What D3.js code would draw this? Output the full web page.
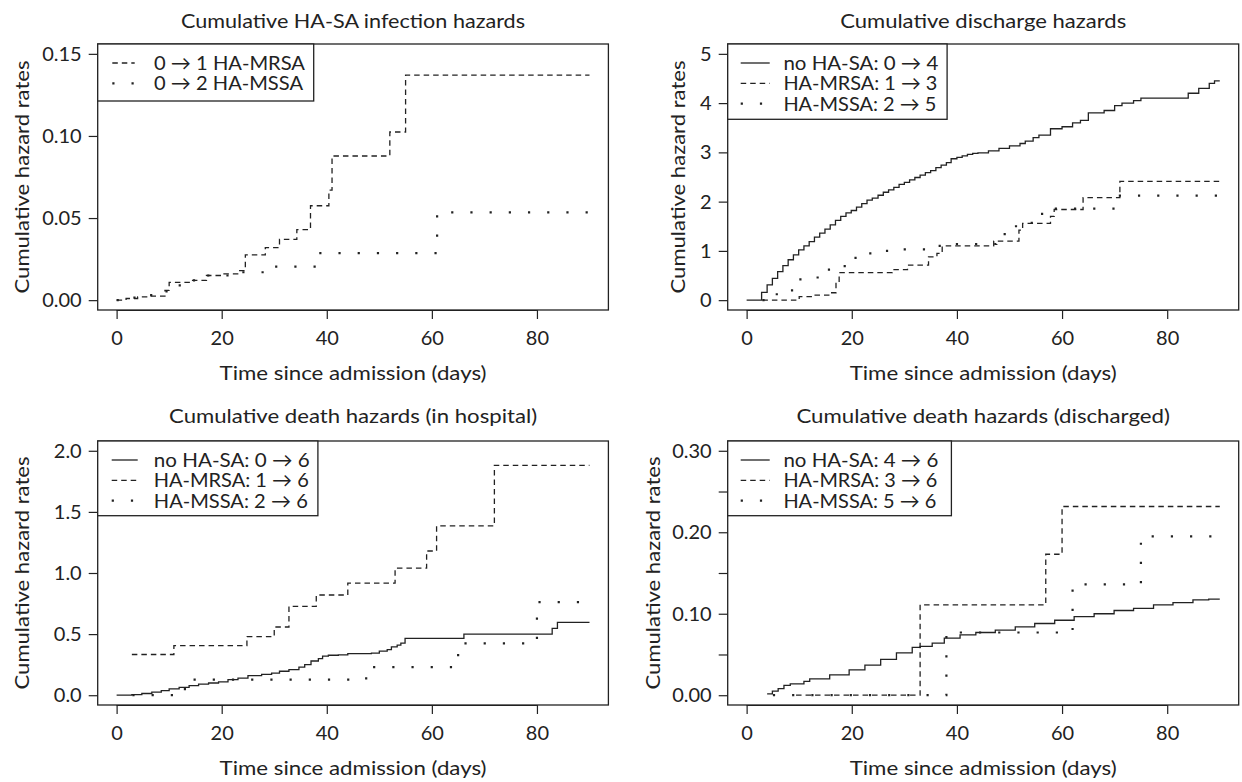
<!DOCTYPE html>
<html>
<head>
<meta charset="utf-8">
<script src="https://cdn.jsdelivr.net/npm/d3@7"></script>
<style>
  html, body { margin: 0; padding: 0; background: #fff; }
  svg text { font-family: Lato, "Open Sans", "DejaVu Sans", sans-serif; fill: #222; }
</style>
</head>
<body>
<svg id="chart" width="1242" height="782"></svg>
<script>
// ---------------- DATA ----------------
const xTicks = [0, 20, 40, 60, 80];
const endDay = 90;

// Panel 1: Cumulative HA-SA infection hazards
const p1Title = "Cumulative HA-SA infection hazards";
const p1YTicks = [0, 0.05, 0.10, 0.15];
const p1YLabels = ["0.00", "0.05", "0.10", "0.15"];
const p1MrsaT = [0, 1.8, 4, 6.6, 9.2, 10, 14.3, 17.1, 20.3, 23.2, 24.5, 28.3, 31, 34.3, 36.9, 40.4, 41, 52, 55];
const p1MrsaV = [0, 0.001, 0.002, 0.0025, 0.006, 0.0108, 0.012, 0.015, 0.016, 0.018, 0.0276, 0.032, 0.037, 0.043, 0.0575, 0.067, 0.0878, 0.1024, 0.137];
const p1MssaT = [0, 3, 6, 9.5, 13, 17, 23.5, 28.5, 38, 61];
const p1MssaV = [0, 0.0015, 0.003, 0.009, 0.012, 0.015, 0.017, 0.0204, 0.0286, 0.0535];
const p1Legend = ["0 \u2192 1 HA-MRSA", "0 \u2192 2 HA-MSSA"];

// Panel 2: Cumulative discharge hazards
const p2Title = "Cumulative discharge hazards";
const p2YTicks = [0, 1, 2, 3, 4, 5];
const p2YLabels = ["0", "1", "2", "3", "4", "5"];
const p2NoneT = [0, 2.85, 3.9, 4.9, 5.9, 6.9, 7.9, 8.9, 9.9, 10.9, 11.9, 12.9, 13.9, 14.9, 15.9, 16.9, 17.9, 18.9, 19.9, 20.9, 21.9, 22.9, 23.9, 25, 26, 27, 28, 29, 30, 31, 32, 33, 34, 35, 36, 37, 38, 38.9, 40, 41, 42, 43, 44, 46, 48, 50, 52, 53, 54.5, 55.6, 57.8, 60, 62, 63.5, 65, 68, 70, 71.4, 73.6, 75, 84, 86, 88, 89];
const p2NoneV = [0, 0.156, 0.31, 0.44, 0.58, 0.70, 0.82, 0.92, 1.02, 1.10, 1.19, 1.28, 1.36, 1.44, 1.53, 1.62, 1.70, 1.77, 1.82, 1.89, 1.96, 2.03, 2.07, 2.13, 2.19, 2.24, 2.29, 2.35, 2.39, 2.44, 2.49, 2.54, 2.59, 2.63, 2.69, 2.74, 2.79, 2.87, 2.90, 2.93, 2.96, 2.98, 2.99, 3.03, 3.08, 3.13, 3.18, 3.23, 3.30, 3.35, 3.48, 3.52, 3.60, 3.65, 3.80, 3.85, 3.95, 4.00, 4.05, 4.10, 4.20, 4.30, 4.40, 4.45];
const p2MrsaT = [3, 10, 12.6, 16, 17, 17.6, 27.7, 30.6, 34.6, 36.2, 37.2, 47, 51.8, 52.5, 57.8, 58.5, 64, 71];
const p2MrsaV = [0, 0.07, 0.10, 0.15, 0.37, 0.56, 0.62, 0.71, 0.88, 0.95, 1.10, 1.20, 1.42, 1.56, 1.70, 1.84, 2.08, 2.41];
const p2MssaT = [3, 4.5, 6, 9.5, 10, 12.5, 14.5, 15, 17.5, 19, 20, 22, 26, 29, 35.5, 38, 47.5, 48, 50, 52, 54.5, 57, 71];
const p2MssaV = [0, 0.12, 0.20, 0.30, 0.42, 0.46, 0.55, 0.62, 0.69, 0.78, 0.86, 0.95, 1.00, 1.03, 1.10, 1.14, 1.25, 1.34, 1.50, 1.57, 1.75, 1.86, 2.12];
const p2Legend = ["no HA-SA: 0 \u2192 4", "HA-MRSA: 1 \u2192 3", "HA-MSSA: 2 \u2192 5"];

// Panel 3: Cumulative death hazards (in hospital)
const p3Title = "Cumulative death hazards (in hospital)";
const p3YTicks = [0, 0.5, 1, 1.5, 2];
const p3YLabels = ["0.0", "0.5", "1.0", "1.5", "2.0"];
const p3NoneT = [0, 2.9, 4.8, 6.7, 8.5, 10, 11.9, 13.8, 15.6, 17.5, 19.4, 21.2, 23.1, 25, 27.6, 29.5, 31, 32.8, 34.7, 35.8, 37, 38.4, 39.2, 40.3, 42.2, 44, 48.5, 50, 51.5, 52.3, 53.4, 54.1, 54.9, 66.1, 82.9, 83.9];
const p3NoneV = [0, 0.005, 0.014, 0.025, 0.038, 0.052, 0.065, 0.079, 0.09, 0.10, 0.11, 0.128, 0.14, 0.16, 0.17, 0.18, 0.196, 0.21, 0.23, 0.25, 0.28, 0.30, 0.32, 0.327, 0.33, 0.34, 0.345, 0.36, 0.373, 0.395, 0.41, 0.427, 0.465, 0.50, 0.547, 0.596];
const p3MrsaT = [2.9, 10.9, 24.8, 30, 32.8, 38, 44, 53, 59, 60.9, 71.9];
const p3MrsaV = [0.333, 0.405, 0.48, 0.558, 0.727, 0.82, 0.917, 1.04, 1.18, 1.385, 1.88];
const p3MssaT = [3, 13, 47.5, 65, 80];
const p3MssaV = [0, 0.128, 0.23, 0.425, 0.762];
const p3Legend = ["no HA-SA: 0 \u2192 6", "HA-MRSA: 1 \u2192 6", "HA-MSSA: 2 \u2192 6"];

// Panel 4: Cumulative death hazards (discharged)
const p4Title = "Cumulative death hazards (discharged)";
const p4YTicks = [0, 0.05, 0.10, 0.15, 0.20, 0.25, 0.30];
const p4YLabels = ["0.00", "", "0.10", "", "0.20", "", "0.30"];
const p4NoneT = [3.9, 4.9, 6, 7.1, 8.3, 10.9, 12, 15.8, 19.5, 22.5, 25.5, 28.5, 31.5, 33, 35.3, 37.6, 40.6, 43.6, 47.3, 51.1, 54.8, 58.6, 62.3, 66.1, 69.9, 73.6, 77.4, 81.1, 84.9, 87.9];
const p4NoneV = [0.0016, 0.005, 0.008, 0.012, 0.014, 0.017, 0.020, 0.025, 0.031, 0.037, 0.044, 0.052, 0.0586, 0.060, 0.064, 0.070, 0.074, 0.077, 0.080, 0.084, 0.088, 0.092, 0.0965, 0.100, 0.104, 0.1066, 0.111, 0.1136, 0.117, 0.118];
const p4MrsaT = [9.4, 33, 56.9, 60];
const p4MrsaV = [0, 0.111, 0.173, 0.2316];
const p4MssaT = [5, 38, 62, 75];
const p4MssaV = [0, 0.077, 0.136, 0.195];
const p4Legend = ["no HA-SA: 4 \u2192 6", "HA-MRSA: 3 \u2192 6", "HA-MSSA: 5 \u2192 6"];

const xLabel = "Time since admission (days)";
const yLabel = "Cumulative hazard rates";

// ---------------- STYLES ----------------
const INK = "#222";
const styles = {
  solid:  { dash: null, width: 1.3, cap: "butt" },
  dashed: { dash: "5.5,4", width: 1.3, cap: "butt" },
  dotted: { dash: "2.2,17", width: 2.2, cap: "butt" }
};

const svg = d3.select("#chart");

function panel(cfg) {
  const { left, right, top, bottom } = cfg.box;
  const x = d3.scaleLinear().domain([-3.6, 93.6]).range([left, right]);
  const ylo = cfg.ylim[0], yhi = cfg.ylim[1], pad = 0.04 * (yhi - ylo);
  const y = d3.scaleLinear().domain([ylo - pad, yhi + pad]).range([bottom, top]);
  const g = svg.append("g");

  // x axis
  const xAxis = d3.axisBottom(x).tickValues(xTicks).tickSize(9).tickSizeOuter(0).tickPadding(6);
  const gx = g.append("g").attr("transform", `translate(0,${bottom})`).call(xAxis);
  gx.select(".domain").attr("d", `M${x(0)},0.5H${x(80)}`).attr("stroke", INK).attr("stroke-width", 1.2);
  gx.selectAll(".tick line").attr("stroke", INK).attr("stroke-width", 1.2);
  gx.selectAll(".tick text").attr("font-size", 20).attr("font-family", "Lato").attr("fill", INK)
    .attr("dy", "1.0em");

  // y axis
  const yAxis = d3.axisLeft(y).tickValues(cfg.yTicks).tickFormat((d, i) => cfg.yLabels[i])
    .tickSize(9).tickSizeOuter(0).tickPadding(7);
  const gy = g.append("g").attr("transform", `translate(${left},0)`).call(yAxis);
  gy.select(".domain").remove();
  gy.selectAll(".tick line").attr("stroke", INK).attr("stroke-width", 1.2);
  gy.selectAll(".tick text").attr("font-size", 20).attr("font-family", "Lato").attr("fill", INK);

  // frame
  g.append("rect").attr("x", left).attr("y", top).attr("width", right - left).attr("height", bottom - top)
    .attr("fill", "none").attr("stroke", INK).attr("stroke-width", 1.3);

  // curves
  const line = d3.line().x(d => x(d[0])).y(d => y(d[1])).curve(d3.curveStepAfter);
  cfg.series.forEach(s => {
    const pts = s.t.map((t, i) => [t, s.v[i]]);
    pts.push([endDay, s.v[s.v.length - 1]]);
    const st = styles[s.style];
    g.append("path").datum(pts).attr("d", line).attr("fill", "none")
      .attr("stroke", INK).attr("stroke-width", st.width).attr("stroke-linecap", st.cap)
      .attr("stroke-dasharray", st.dash);
  });

  // title
  const cx = (left + right) / 2;
  g.append("text").attr("x", cx).attr("y", cfg.titleY).attr("text-anchor", "middle")
    .attr("font-size", 20).attr("textLength", cfg.titleW).attr("lengthAdjust", "spacingAndGlyphs")
    .text(cfg.title);
  // x label
  g.append("text").attr("x", cx).attr("y", bottom + 70).attr("text-anchor", "middle")
    .attr("font-size", 20).attr("textLength", 267).attr("lengthAdjust", "spacingAndGlyphs")
    .text(xLabel);
  // y label
  const cy = (top + bottom) / 2;
  g.append("text").attr("transform", `translate(${cfg.yLabX},${cy}) rotate(-90)`).attr("text-anchor", "middle")
    .attr("font-size", 20).attr("textLength", 233).attr("lengthAdjust", "spacingAndGlyphs")
    .text(yLabel);

  // legend
  const L = cfg.legend;
  g.append("rect").attr("x", left).attr("y", top).attr("width", L.w).attr("height", L.h)
    .attr("fill", "#fff").attr("stroke", INK).attr("stroke-width", 1.3);
  L.items.forEach((it, i) => {
    const ry = top + 19 + i * 20.3;
    const st = styles[it.style];
    g.append("line").attr("x1", left + L.sx0).attr("x2", left + L.sx1).attr("y1", ry).attr("y2", ry)
      .attr("stroke", INK).attr("stroke-width", st.width).attr("stroke-dasharray", st.dash)
      .attr("stroke-linecap", st.cap);
    g.append("text").attr("x", left + L.tx).attr("y", ry + 7).attr("font-size", 20)
      .attr("textLength", it.w).attr("lengthAdjust", "spacingAndGlyphs").text(it.label);
  });
}

panel({
  box: { left: 97.7, right: 608.4, top: 44, bottom: 310 }, ylim: [0, 0.15],
  yTicks: p1YTicks, yLabels: p1YLabels, title: p1Title, titleY: 28.3, titleW: 344, yLabX: 29.3,
  series: [
    { t: p1MrsaT, v: p1MrsaV, style: "dashed" },
    { t: p1MssaT, v: p1MssaV, style: "dotted" }
  ],
  legend: { w: 216, h: 57, sx0: 14.6, sx1: 37, tx: 56.3,
    items: [ { label: p1Legend[0], style: "dashed", w: 151 }, { label: p1Legend[1], style: "dotted", w: 149 } ] }
});

panel({
  box: { left: 727.7, right: 1238.7, top: 44, bottom: 310 }, ylim: [0, 5],
  yTicks: p2YTicks, yLabels: p2YLabels, title: p2Title, titleY: 28.3, titleW: 286, yLabX: 685.4,
  series: [
    { t: p2NoneT, v: p2NoneV, style: "solid" },
    { t: p2MrsaT, v: p2MrsaV, style: "dashed" },
    { t: p2MssaT, v: p2MssaV, style: "dotted" }
  ],
  legend: { w: 219.4, h: 75.3, sx0: 13, sx1: 42, tx: 55.7,
    items: [ { label: p2Legend[0], style: "solid", w: 155 }, { label: p2Legend[1], style: "dashed", w: 154 },
             { label: p2Legend[2], style: "dotted", w: 153 } ] }
});

panel({
  box: { left: 97.7, right: 608.4, top: 441, bottom: 705 }, ylim: [0, 2],
  yTicks: p3YTicks, yLabels: p3YLabels, title: p3Title, titleY: 423.3, titleW: 368, yLabX: 29.3,
  series: [
    { t: p3NoneT, v: p3NoneV, style: "solid" },
    { t: p3MrsaT, v: p3MrsaV, style: "dashed" },
    { t: p3MssaT, v: p3MssaV, style: "dotted" }
  ],
  legend: { w: 220.2, h: 74.7, sx0: 14, sx1: 40, tx: 56.1,
    items: [ { label: p3Legend[0], style: "solid", w: 156 }, { label: p3Legend[1], style: "dashed", w: 155 },
             { label: p3Legend[2], style: "dotted", w: 154 } ] }
});

panel({
  box: { left: 727.7, right: 1238.7, top: 441, bottom: 705 }, ylim: [0, 0.3],
  yTicks: p4YTicks, yLabels: p4YLabels, title: p4Title, titleY: 423.3, titleW: 373.5, yLabX: 659.7,
  series: [
    { t: p4NoneT, v: p4NoneV, style: "solid" },
    { t: p4MrsaT, v: p4MrsaV, style: "dashed" },
    { t: p4MssaT, v: p4MssaV, style: "dotted" }
  ],
  legend: { w: 223.7, h: 74.7, sx0: 13, sx1: 42, tx: 55.7,
    items: [ { label: p4Legend[0], style: "solid", w: 155 }, { label: p4Legend[1], style: "dashed", w: 154 },
             { label: p4Legend[2], style: "dotted", w: 153 } ] }
});
</script>
</body>
</html>
